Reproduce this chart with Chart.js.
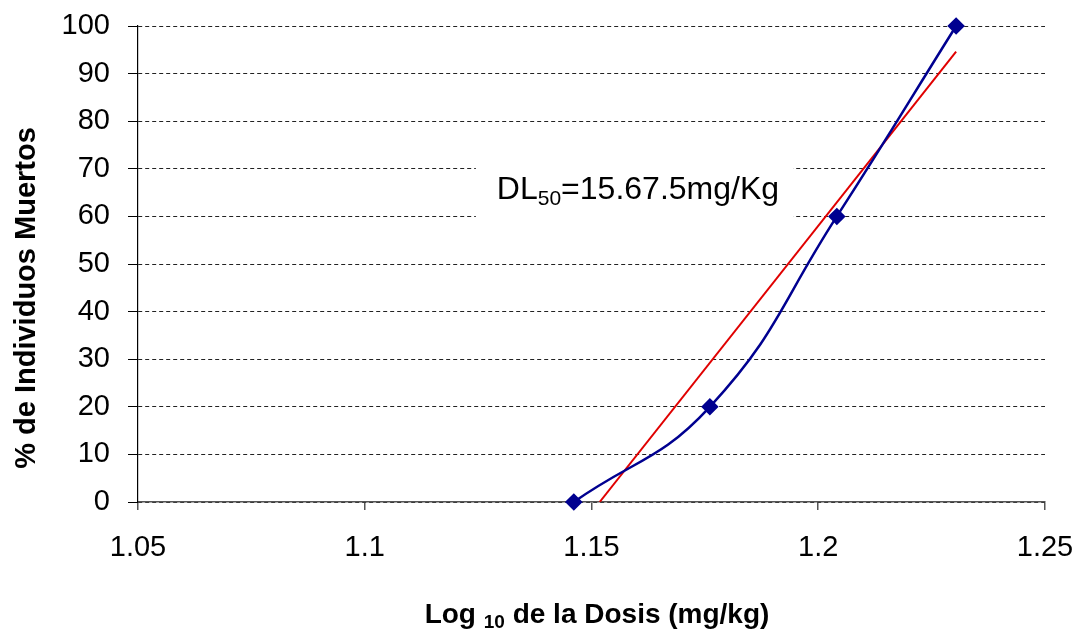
<!DOCTYPE html>
<html lang="es">
<head>
<meta charset="UTF-8">
<title>DL50</title>
<script src="https://cdn.jsdelivr.net/npm/chart.js"></script>
<style>
  html, body { margin: 0; padding: 0; background: #fff; }
  #grafico { display: block; }
</style>
</head>
<body>
<canvas id="grafico" width="1080" height="629"></canvas>
<script>
// Datos
const logDosis = [1.1461, 1.1761, 1.2041, 1.2304];
const muertos = [0, 20, 60, 100];
const tendenciaX = [1.1518, 1.2304];
const tendenciaY = [0, 94.6];
const xTicks = [1.05, 1.1, 1.15, 1.2, 1.25];
const xTickLabels = ['1.05', '1.1', '1.15', '1.2', '1.25'];
const yTicks = [0, 10, 20, 30, 40, 50, 60, 70, 80, 90, 100];

const FUENTE = '"Liberation Sans", Arial, sans-serif';

// Textos con subíndices: títulos de ejes y anotación DL50
const textos = {
    id: 'textos',
    beforeDatasetsDraw(chart) {
        const ctx = chart.ctx;
        const x = chart.scales.x, y = chart.scales.y;
        ctx.save();
        // caja blanca de la anotación
        const x0 = x.getPixelForValue(1.1245), x1 = x.getPixelForValue(1.1945);
        const y0 = y.getPixelForValue(74), y1 = y.getPixelForValue(56);
        ctx.fillStyle = '#fff';
        ctx.fillRect(x0, y0, x1 - x0, y1 - y0);
        ctx.fillStyle = '#000';
        ctx.textBaseline = 'alphabetic';
        ctx.textAlign = 'left';
        let px = x0 + 21, base = 199;
        ctx.font = '32px ' + FUENTE;
        ctx.fillText('DL', px, base);
        px += ctx.measureText('DL').width;
        ctx.font = '21px ' + FUENTE;
        ctx.fillText('50', px, base + 6);
        px += ctx.measureText('50').width;
        ctx.font = '32px ' + FUENTE;
        ctx.fillText('=15.67.5mg/Kg', px, base);
        ctx.restore();
    },
    afterDraw(chart) {
        const ctx = chart.ctx;
        ctx.save();
        ctx.fillStyle = '#000';
        ctx.textBaseline = 'alphabetic';
        // título eje X
        const partes = [['Log ', 'bold 28px '], ['10', 'bold 19px '], [' de la Dosis (mg/kg)', 'bold 28px ']];
        let ancho = 0;
        partes.forEach(p => { ctx.font = p[1] + FUENTE; ancho += ctx.measureText(p[0]).width; });
        let px = 597 - ancho / 2;
        partes.forEach((p, i) => {
            ctx.font = p[1] + FUENTE;
            ctx.fillText(p[0], px, i === 1 ? 628 : 623);
            px += ctx.measureText(p[0]).width;
        });
        // título eje Y
        ctx.translate(35, 298);
        ctx.rotate(-Math.PI / 2);
        ctx.textAlign = 'center';
        ctx.font = 'bold 29px ' + FUENTE;
        ctx.fillText('% de Individuos Muertos', 0, 0);
        ctx.restore();
    }
};

const config = {
    type: 'scatter',
    data: {
        datasets: [{
            label: 'Observado',
            data: logDosis.map((v, i) => ({ x: v, y: muertos[i] })),
            showLine: true,
            borderColor: '#000090',
            backgroundColor: '#000090',
            borderWidth: 2.5,
            tension: 0.45,
            pointStyle: 'rectRot',
            pointRadius: 7,
            pointHoverRadius: 7,
            clip: false,
            order: 1
        }, {
            label: 'Tendencia',
            data: tendenciaX.map((v, i) => ({ x: v, y: tendenciaY[i] })),
            showLine: true,
            borderColor: '#e00000',
            borderWidth: 2,
            pointRadius: 0,
            order: 2
        }]
    },
    options: {
        responsive: false,
        animation: false,
        layout: { padding: { left: 0, right: 35, top: 26, bottom: 0 } },
        plugins: {
            legend: { display: false },
            tooltip: { enabled: false }
        },
        scales: {
            x: {
                type: 'linear',
                min: 1.05,
                max: 1.25,
                afterBuildTicks: s => { s.ticks = xTicks.map(v => ({ value: v })); },
                afterFit: s => { s.height = 127; s.paddingLeft = 0; s.paddingRight = 0; },
                ticks: {
                    callback: (v, i) => xTickLabels[i],
                    font: { family: FUENTE, size: 29 },
                    color: '#000',
                    padding: 21,
                    maxRotation: 0
                },
                grid: { drawOnChartArea: false, tickLength: 8, color: '#555', lineWidth: 1.5 },
                border: { color: '#555', width: 1.5 }
            },
            y: {
                min: 0,
                max: 100,
                afterBuildTicks: s => { s.ticks = yTicks.map(v => ({ value: v })); },
                afterFit: s => { s.width = 138; s.paddingTop = 0; s.paddingBottom = 0; },
                ticks: {
                    font: { family: FUENTE, size: 29 },
                    color: '#000',
                    padding: 18
                },
                grid: { color: '#222', lineWidth: 1, tickLength: 10, tickColor: '#000' },
                border: { color: '#000', width: 1.2, dash: [4, 3] }
            }
        }
    },
    plugins: [textos]
};

new Chart(document.getElementById('grafico').getContext('2d'), config);
</script>
</body>
</html>
